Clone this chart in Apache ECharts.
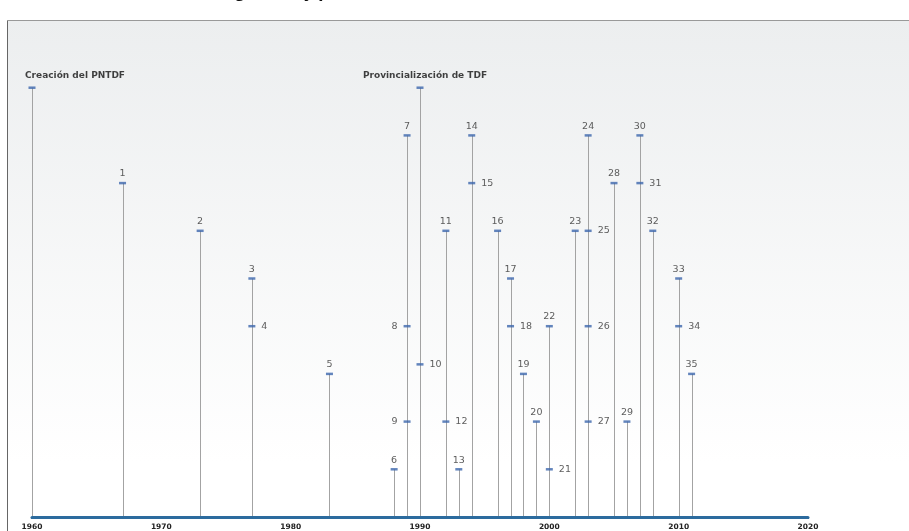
<!DOCTYPE html>
<html><head><meta charset="utf-8">
<script src="https://cdn.jsdelivr.net/npm/echarts@6/dist/echarts.min.js"></script>
<style>html,body{margin:0;padding:0;background:#fff}#c{width:909px;height:531px}</style>
</head><body><div id="c"></div>
<script>
const titleText = 'Normas e instrumentos de gestión y planificación';
const years  = [1960,1967,1973,1977,1977,1983,1988,1989,1989,1989,1990,1990,1992,1992,1993,1994,1994,1996,1997,1997,1998,1999,2000,2000,2002,2003,2003,2003,2003,2005,2006,2007,2007,2008,2010,2010,2011];
const levels = [9,7,6,5,4,3,1,8,4,2,9,3.2,6,2,1,8,7,6,5,4,3,2,1,4,6,8,6,4,2,7,2,8,7,6,5,4,3];
const labels = ['Creación del PNTDF','1','2','3','4','5','6','7','8','9','Provincialización de TDF','10','11','12','13','14','15','16','17','18','19','20','21','22','23','24','25','26','27','28','29','30','31','32','33','34','35'];
const labelPos = ['top','top','top','top','right','top','top','top','left','left','top','right','top','right','top','top','right','top','top','right','top','top','right','top','top','top','right','right','right','top','top','top','right','top','top','right','top'];
const xTicks = [1960,1970,1980,1990,2000,2010,2020];

const chart = echarts.init(document.getElementById('c'));
const pts = years.map((y,i)=>{
  const named = labels[i].length > 3;
  const lab = {position: labelPos[i], distance: labelPos[i]==='top'?3:6};
  if (named) {
    Object.assign(lab, {fontWeight:'bold', fontSize:9, color:'#111', distance:6});
    if (i===0) { lab.align='left'; lab.offset=[-7,0]; }
    else { lab.offset=[5,0]; }
  }
  return {value:[y, levels[i]], label: lab, name: labels[i]};
});
chart.setOption({
  animation:false,
  title:{text:titleText,left:0,top:-18,textStyle:{fontSize:15,fontWeight:'bold',color:'#111',fontFamily:'DejaVu Sans'}},
  graphic:[
    {type:'rect',shape:{x:7,y:20,width:910,height:520},z:-10,
     style:{fill:new echarts.graphic.LinearGradient(0,0,0,1,[{offset:0,color:'#eceeef'},{offset:0.85,color:'#ffffff'},{offset:1,color:'#ffffff'}]),stroke:null}},
    {type:'line',shape:{x1:7.5,y1:20,x2:7.5,y2:531},style:{stroke:'#666',lineWidth:1},z:-5},
    {type:'line',shape:{x1:7,y1:20.5,x2:909,y2:20.5},style:{stroke:'#999',lineWidth:1},z:-5}
  ],
  grid:{left:32,right:101,top:40,bottom:14},
  xAxis:{type:'value',min:1960,max:2020,interval:10,
    axisLine:{show:true,lineStyle:{color:'#2c6b9e',width:3}},
    axisTick:{show:true,length:2,lineStyle:{color:'#2c6b9e',width:2}},
    splitLine:{show:false},
    axisLabel:{fontSize:7.5,fontWeight:'bold',color:'#222',margin:6,fontFamily:'DejaVu Sans',
      formatter:v=>xTicks.includes(v)?String(v):''}},
  yAxis:{type:'value',min:0,max:10,show:false,splitLine:{show:false}},
  series:[
    {type:'custom',z:1,data:years.map((y,i)=>[y,levels[i]]),
     renderItem:(params,api)=>{
       const a=api.coord([api.value(0),0]);
       const b=api.coord([api.value(0),api.value(1)]);
       return {type:'line',shape:{x1:Math.round(a[0])+0.5,y1:a[1]-1,x2:Math.round(b[0])+0.5,y2:b[1]},style:{stroke:'#a3a3a3',lineWidth:1}};
     }},
    {type:'scatter',z:3,symbol:'rect',symbolSize:[7,2.5],itemStyle:{color:'#3c66ad'},
     label:{show:true,formatter:p=>p.name,fontSize:9.5,color:'#333',fontFamily:'DejaVu Sans'},
     data:pts}
  ]
});
</script></body></html>
